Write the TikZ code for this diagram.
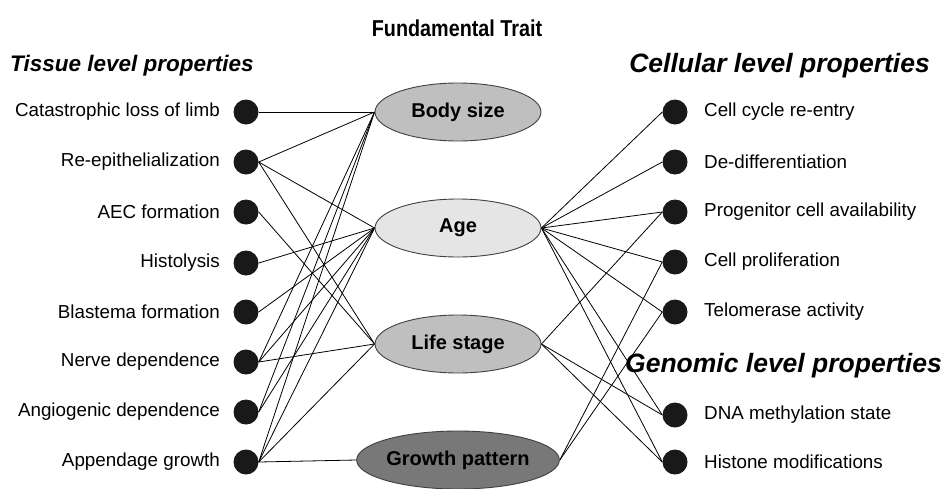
\documentclass[tikz,border=0pt]{standalone}
\usepackage{fontspec}
\setmainfont{Liberation Sans}
\usetikzlibrary{shapes.geometric,backgrounds}
\begin{document}
\begin{tikzpicture}[x=1pt,y=-1pt,
  dot/.style={circle,fill=black!90,minimum size=25pt,inner sep=0pt},
  trait/.style={ellipse,draw=black!75,line width=0.9pt,minimum width=166pt,minimum height=58pt,inner sep=0pt,font=\fontsize{20}{22}\selectfont\bfseries},
  lab/.style={font=\fontsize{18.8}{21}\selectfont, inner sep=0pt},
  head/.style={font=\fontsize{22.5}{25}\selectfont\bfseries\itshape, inner sep=0pt},
  headr/.style={font=\fontsize{26.5}{29}\selectfont\bfseries\itshape, inner sep=0pt},
  conn/.style={line width=0.8pt}]
\useasboundingbox (0,0) rectangle (944,488);
\node[font=\fontsize{23}{26}\selectfont\bfseries, inner sep=0pt] (title) at (457,28) {\scalebox{0.86}[1]{Fundamental Trait}};
\node[head, anchor=west] (hl) at (10,66) {Tissue level properties};
\node[headr, anchor=east] (hc) at (930,66) {Cellular level properties};
\node[headr, anchor=east] (hg) at (942,366) {Genomic level properties};
% traits
\node[trait, fill=black!25] (B) at (458,112) {Body size};
\node[trait, fill=black!10] (A) at (458,228) {Age};
\node[trait, fill=black!25] (L) at (458,344) {Life stage};
\node[trait, fill=black!53] (G) at (458,460) {Growth pattern};
% left dots
\foreach \i/\y/\t in {1/112/Catastrophic loss of limb,2/162/Re-epithelialization,3/212/AEC formation,4/263/Histolysis,5/312/Blastema formation,6/362/Nerve dependence,7/412/Angiogenic dependence,8/462/Appendage growth}{
  \node[dot] (l\i) at (246,\y) {};
  \node[lab, anchor=east] (lt\i) at (220,\y) {\t};
}
\foreach \i/\y/\t in {1/112/Cell cycle re-entry,2/162/De-differentiation,3/212/Progenitor cell availability,4/262/Cell proliferation,5/312/Telomerase activity,6/415/DNA methylation state,7/462/Histone modifications}{
  \node[dot] (r\i) at (675,\y) {};
  \node[lab, anchor=west] (rt\i) at (704,\y) {\t};
}
\begin{scope}[on background layer]
\foreach \a/\b in {l1/B,l2/B,l2/A,l2/L,l3/L,l4/A,l5/A,l6/B,l6/A,l6/L,l7/B,l7/A,l8/B,l8/A,l8/L,l8/G}{
  \draw[conn] (\a.east) -- (\b.west);
}
\foreach \a/\b in {A/r1,A/r2,A/r3,A/r4,A/r5,A/r6,A/r7,L/r3,L/r6,L/r7,G/r4,G/r5}{
  \draw[conn] (\a.east) -- (\b.west);
}
\end{scope}
\end{tikzpicture}
\end{document}
